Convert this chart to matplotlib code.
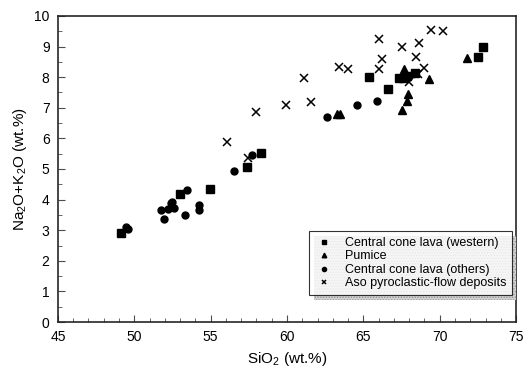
import matplotlib
matplotlib.use("Agg")
import matplotlib.pyplot as plt
from matplotlib.ticker import MultipleLocator
from matplotlib.patches import Rectangle

plt.rcParams["font.family"] = ["Liberation Sans", "DejaVu Sans"]
plt.rcParams["mathtext.default"] = "regular"
plt.rcParams["hatch.linewidth"] = 0.6

# Central cone lava (western)
west_sio2 = [49.1, 53.0, 54.95, 57.35, 58.3, 65.4, 66.6, 67.3, 67.6, 67.85, 68.4, 72.5, 72.85]
west_alk = [2.91, 4.18, 4.34, 5.05, 5.53, 8.0, 7.62, 7.97, 7.97, 8.05, 8.15, 8.65, 8.97]

# Pumice
pum_sio2 = [63.3, 63.5, 67.65, 67.9, 67.83, 67.52, 69.3, 71.76]
pum_alk = [6.8, 6.8, 8.26, 7.46, 7.22, 6.92, 7.94, 8.64]

# Central cone lava (others)
oth_sio2 = [49.45, 49.6, 51.78, 51.97, 52.21, 52.43, 52.48, 52.59, 53.29, 53.47,
            54.23, 54.23, 56.56, 57.7, 62.61, 64.56, 65.92]
oth_alk = [3.09, 3.04, 3.67, 3.38, 3.70, 3.88, 3.93, 3.74, 3.51, 4.32,
           3.81, 3.67, 4.92, 5.46, 6.69, 7.10, 7.22]

# Aso pyroclastic-flow deposits
aso_sio2 = [56.1, 57.43, 57.96, 59.93, 61.1, 61.58, 63.4, 64.01, 65.99, 66.25,
            65.99, 67.5, 68.64, 68.47, 67.96, 68.6, 69.0, 69.43, 70.18]
aso_alk = [5.87, 5.35, 6.87, 7.09, 7.96, 7.2, 8.32, 8.26, 9.24, 8.58,
           8.27, 8.99, 9.12, 8.66, 7.85, 8.1, 8.3, 9.54, 9.52]

fig = plt.figure(figsize=(5.31, 3.71), dpi=100)
ax = fig.add_axes([0.109, 0.132, 0.863, 0.825])

ax.plot(west_sio2, west_alk, "s", color="black", ms=5.5, ls="none",
        label="Central cone lava (western)")
ax.plot(pum_sio2, pum_alk, "^", color="black", ms=5.5, ls="none", label="Pumice")
ax.plot(oth_sio2, oth_alk, "o", color="black", ms=5, ls="none",
        label="Central cone lava (others)")
ax.plot(aso_sio2, aso_alk, "x", color="black", ms=6, mew=1.1, ls="none",
        label="Aso pyroclastic-flow deposits")

ax.set_xlim(45, 75)
ax.set_ylim(0, 10)
ax.xaxis.set_major_locator(MultipleLocator(5))
ax.xaxis.set_minor_locator(MultipleLocator(1))
ax.yaxis.set_major_locator(MultipleLocator(1))
ax.yaxis.set_minor_locator(MultipleLocator(0.5))
ax.tick_params(which="both", direction="in", top=False, right=False,
               labelsize=10, color="0.3")
ax.tick_params(which="major", length=5, width=0.8, pad=6)
ax.tick_params(which="minor", length=3, width=0.6)
for s in ax.spines.values():
    s.set_linewidth(1.2)
    s.set_color("0.15")

ax.set_xlabel("SiO$_2$ (wt.%)", fontsize=11)
ax.set_ylabel("Na$_2$O+K$_2$O (wt.%)", fontsize=11)

leg = ax.legend(loc="lower right", bbox_to_anchor=(0.991, 0.088), fontsize=9,
                frameon=True, fancybox=False, edgecolor="black",
                handlelength=1.4, handletextpad=1.0, labelspacing=0.12,
                markerscale=0.6, borderpad=0.45, borderaxespad=0)
leg.get_frame().set_linewidth(0.8)
leg.set_zorder(5)

# shadow behind the legend box
fig.canvas.draw()
bb = leg.get_window_extent().transformed(ax.transAxes.inverted())
dx = 5 / ax.bbox.width
dy = 5 / ax.bbox.height
shadow = Rectangle((bb.x0 + dx, bb.y0 - dy), bb.width, bb.height,
                   transform=ax.transAxes, facecolor="0.82", edgecolor="0.55",
                   hatch="......", linewidth=0, zorder=4.5)
ax.add_patch(shadow)

fig.savefig("out.png", dpi=100)
